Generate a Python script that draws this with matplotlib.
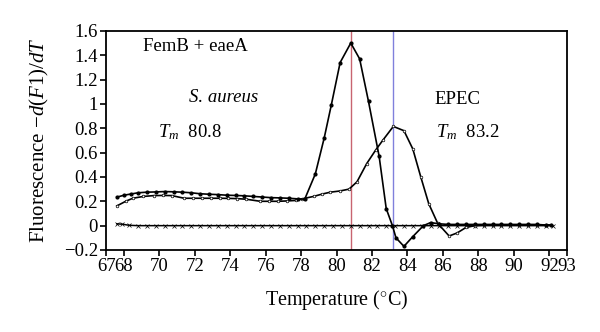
import matplotlib
matplotlib.use("Agg")
import matplotlib.pyplot as plt

plt.rcParams['font.family'] = ['Liberation Serif', 'DejaVu Serif']
plt.rcParams['mathtext.fontset'] = 'custom'
plt.rcParams['mathtext.rm'] = 'Liberation Serif'
plt.rcParams['mathtext.it'] = 'Liberation Serif:italic'

# S. aureus (femB) melt curve
t_sa = [67.6, 68.0, 68.4, 68.8, 69.3, 69.8, 70.3, 70.8, 71.3, 71.8, 72.3, 72.8, 73.3,
        73.8, 74.3, 74.8, 75.3, 75.8, 76.3, 76.8, 77.3, 77.8, 78.2, 78.8, 79.3, 79.7,
        80.2, 80.8, 81.3, 81.8, 82.4, 82.8, 83.15, 83.35, 83.8, 84.3, 84.9, 85.3, 85.8,
        86.3, 86.8, 87.3, 87.8, 88.3, 88.8, 89.3, 89.8, 90.3, 90.8, 91.3, 91.8, 92.1]
y_sa = [0.234, 0.25, 0.26, 0.27, 0.275, 0.277, 0.28, 0.278, 0.275, 0.27, 0.262, 0.258, 0.255,
        0.25, 0.248, 0.245, 0.24, 0.235, 0.23, 0.228, 0.225, 0.22, 0.217, 0.425, 0.72, 0.99,
        1.34, 1.50, 1.37, 1.02, 0.57, 0.14, 0.0, -0.10, -0.17, -0.09, 0.0, 0.025, 0.015,
        0.01, 0.01, 0.01, 0.01, 0.01, 0.01, 0.01, 0.01, 0.01, 0.01, 0.01, 0.005, 0.005]

# EPEC (eaeA) melt curve
t_ep = [67.6, 68.1, 68.5, 69.1, 69.7, 70.2, 70.7, 71.4, 71.9, 72.4, 72.9, 73.4, 73.9,
        74.4, 74.9, 75.7, 76.2, 76.7, 77.2, 77.7, 78.05, 78.7, 79.2, 79.65, 80.2, 80.7,
        81.15, 81.7, 82.2, 82.6, 83.2, 83.8, 84.3, 84.75, 85.2, 85.7, 86.35, 86.8, 87.3,
        87.8, 88.3, 88.8, 89.3, 89.8, 90.3, 90.8, 91.3, 91.8, 92.1]
y_ep = [0.162, 0.2, 0.225, 0.24, 0.247, 0.248, 0.247, 0.225, 0.225, 0.225, 0.225, 0.225, 0.224,
        0.222, 0.217, 0.2, 0.2, 0.2, 0.203, 0.207, 0.22, 0.24, 0.26, 0.275, 0.285, 0.30,
        0.36, 0.51, 0.62, 0.70, 0.815, 0.78, 0.63, 0.40, 0.18, 0.02, -0.085, -0.06, -0.015,
        0.0, 0.005, 0.005, 0.005, 0.005, 0.005, 0.005, 0.005, 0.005, 0.005]

# No-template control
t_nt = [67.6, 67.9, 68.3, 68.8, 69.3, 69.8, 70.3, 70.8, 71.3, 71.8, 72.3, 72.8, 73.3,
        73.8, 74.3, 74.8, 75.3, 75.8, 76.3, 76.8, 77.3, 77.8, 78.3, 78.8, 79.3, 79.8,
        80.3, 80.8, 81.3, 81.8, 82.3, 82.8, 83.3, 83.8, 84.3, 84.8, 85.3, 85.8, 86.3,
        86.8, 87.3, 87.8, 88.3, 88.8, 89.3, 89.8, 90.3, 90.8, 91.3, 91.8, 92.2]
y_nt = [0.015, 0.012, 0.003] + [0.0] * 48

tm_sa = 80.8
tm_ep = 83.2

x_ticks = [67, 68, 70, 72, 74, 76, 78, 80, 82, 84, 86, 88, 90, 92, 93]
y_ticks = [-0.2, 0, 0.2, 0.4, 0.6, 0.8, 1, 1.2, 1.4, 1.6]
y_tick_labels = ['\u22120.2', '0', '0.2', '0.4', '0.6', '0.8', '1', '1.2', '1.4', '1.6']

fig = plt.figure(figsize=(6.0, 3.32), dpi=100)
ax = fig.add_axes([0.177, 0.247, 0.768, 0.660])

ax.axvline(tm_sa, color='#c86470', lw=1.0, zorder=1)
ax.axvline(tm_ep, color='#8080dc', lw=1.0, zorder=1)

ax.plot(t_nt, y_nt, color='black', lw=1.1, marker='x', ms=2.2, mew=0.5, zorder=2)
ax.plot(t_ep, y_ep, color='black', lw=1.2, marker='o', ms=1.9, mfc='white', mew=0.5, zorder=3)
ax.plot(t_sa, y_sa, color='black', lw=1.2, marker='o', ms=2.0, zorder=4)

ax.set_xlim(67, 93)
ax.set_ylim(-0.2, 1.6)
ax.set_xticks(x_ticks)
ax.set_xticklabels([str(v) for v in x_ticks])
ax.set_yticks(y_ticks)
ax.set_yticklabels(y_tick_labels)
ax.tick_params(labelsize=13.5, direction='out', length=4, width=1.2, pad=2)
for s in ax.spines.values():
    s.set_linewidth(1.3)

ax.set_xlabel('Temperature ($^{\\circ}$C)', fontsize=14.5, labelpad=9)
ax.set_ylabel('Fluorescence $-d(F\\mathrm{1})/dT$', fontsize=15, labelpad=9)

ax.text(69.1, 1.47, 'FemB + eaeA', fontsize=13.5, va='center', ha='left')
ax.text(71.7, 1.05, 'S. aureus', fontsize=13.5, style='italic', va='center', ha='left')
ax.text(69.9, 0.77, '$T_m$  80.8', fontsize=13.5, va='center', ha='left')
ax.text(85.5, 1.04, 'EPEC', fontsize=13.5, va='center', ha='left')
ax.text(85.6, 0.77, '$T_m$  83.2', fontsize=13.5, va='center', ha='left')

fig.savefig('out.png', dpi=100)
